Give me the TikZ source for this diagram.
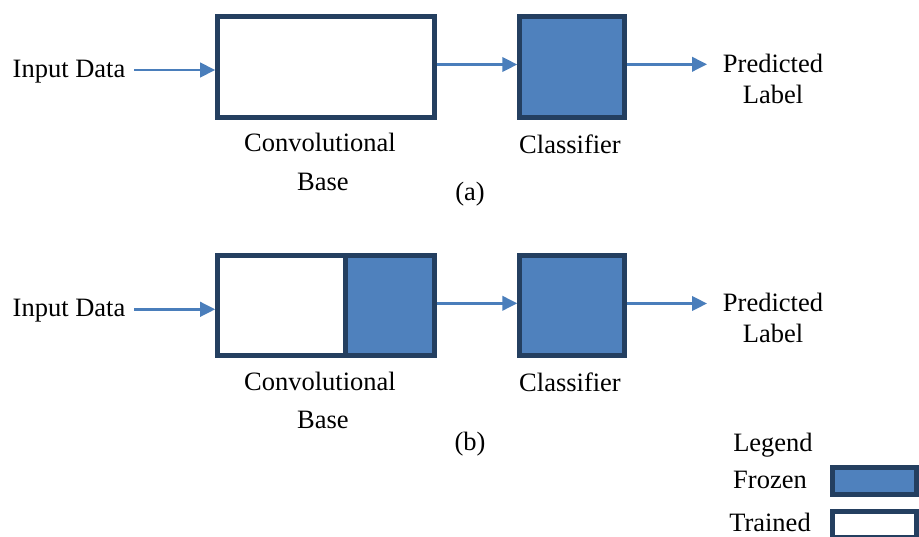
\documentclass[tikz,border=0pt]{standalone}
\usepackage{fontspec}
\setmainfont{Liberation Serif}
\usetikzlibrary{arrows.meta}

\definecolor{blockfill}{HTML}{4F81BD}
\definecolor{blockline}{HTML}{243F60}
\definecolor{flowline}{HTML}{4A7EBB}

\tikzset{
  block/.style={draw=blockline, line width=5pt, inner sep=0pt, rectangle},
  frozen/.style={block, fill=blockfill},
  trained/.style={block, fill=white},
  flow/.style={draw=flowline, line width=2.5pt,
    -{Triangle[length=15pt,width=14.5pt]}},
  lbl/.style={inner sep=0pt, anchor=base,
    font=\fontsize{26.5}{32}\selectfont}
}

\begin{document}
\begin{tikzpicture}[x=1pt, y=-1pt]
  \useasboundingbox (0,0) rectangle (919,536);
  \clip (0,0) rectangle (919,536);

  % ---------- (a): whole convolutional base trained ----------
  \node[trained, minimum width=216.3pt, minimum height=100.3pt] (convA) at (325.85,66.85) {};
  \node[frozen, minimum width=104.5pt, minimum height=100.3pt] (clsA) at (572,66.85) {};

  \node[lbl] (inTxtA) at (69,77.7) {Input Data};
  \coordinate (inA) at (134,70);
  \draw[flow] (inA) -- (inA -| convA.west);
  \draw[flow] ([yshift=2.35pt]convA.east) -- ([yshift=2.35pt]clsA.west);
  \coordinate (outA) at (707,64.3);
  \draw[flow] (outA -| clsA.east) -- (outA);

  \node[lbl] (predA) at (773,72.7) {Predicted};
  \node[lbl] (labA) at (773,103.3) {Label};
  \node[lbl] (convTxtA) at (320,151.7) {Convolutional};
  \node[lbl] (baseTxtA) at (323,190) {Base};
  \node[lbl] (clsTxtA) at (570,153.3) {Classifier};
  \node[lbl] (capA) at (470,200) {(a)};

  % ---------- (b): top layers of the base trained ----------
  \node[trained, minimum width=216.3pt, minimum height=100.3pt] (convB) at (325.85,305.5) {};
  \fill[blockfill] (345.7,257.7) rectangle (431.7,353.3);
  \draw[blockline, line width=5pt] (345.7,255.2) -- (345.7,355.8);
  \draw[blockline, line width=5pt] (convB.north west) ++(2.5,2.5) rectangle ([shift={(-2.5pt,2.5pt)}]convB.south east);
  \node[frozen, minimum width=104.5pt, minimum height=100.3pt] (clsB) at (572,305.5) {};

  \node[lbl] (inTxtB) at (69,316.7) {Input Data};
  \coordinate (inB) at (134,309.3);
  \draw[flow] (inB) -- (inB -| convB.west);
  \draw[flow] ([yshift=2.2pt]convB.east) -- ([yshift=2.2pt]clsB.west);
  \coordinate (outB) at (707,303.5);
  \draw[flow] (outB -| clsB.east) -- (outB);

  \node[lbl] (predB) at (773,311.7) {Predicted};
  \node[lbl] (labB) at (773,342) {Label};
  \node[lbl] (convTxtB) at (320,390) {Convolutional};
  \node[lbl] (baseTxtB) at (323,428.3) {Base};
  \node[lbl] (clsTxtB) at (570,391.7) {Classifier};
  \node[lbl] (capB) at (470,450.5) {(b)};

  % ---------- legend ----------
  \node[lbl] (legTxt) at (773,451) {Legend};
  \node[lbl] (frzTxt) at (770,488) {Frozen};
  \node[lbl] (trnTxt) at (770,531.5) {Trained};
  \node[frozen, minimum width=84.5pt, minimum height=26.2pt] (frzKey) at (874.25,480.9) {};
  \node[trained, minimum width=84.5pt, minimum height=26.2pt] (trnKey) at (874.25,524.1) {};
\end{tikzpicture}
\end{document}
